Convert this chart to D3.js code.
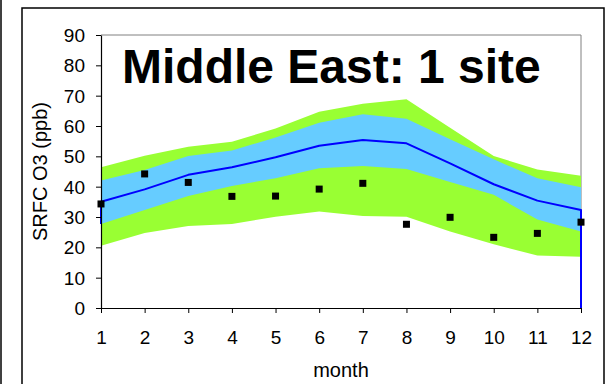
<!DOCTYPE html>
<html>
<head>
<meta charset="utf-8">
<script src="https://cdn.jsdelivr.net/npm/d3@7"></script>
<style>
  html, body { margin: 0; padding: 0; background: #fff; }
  svg { display: block; font-family: Arial, "Liberation Sans", sans-serif; }
</style>
</head>
<body>
<svg id="chart" width="608" height="384"></svg>
<script>
// Monthly surface ozone, Middle East (1 site)
const months = [1, 2, 3, 4, 5, 6, 7, 8, 9, 10, 11, 12];
const modelMean   = [35.0, 39.1, 43.9, 46.4, 49.7, 53.5, 55.4, 54.3, 47.7, 40.8, 35.4, 32.3];
const innerUpper  = [42.0, 45.5, 50.1, 51.9, 56.2, 61.1, 63.9, 62.4, 55.6, 49.0, 42.8, 39.8];
const innerLower  = [27.7, 32.3, 36.9, 40.2, 42.8, 46.1, 46.8, 45.8, 41.5, 37.3, 29.2, 25.2];
const outerUpper  = [46.4, 50.2, 53.2, 54.8, 59.2, 64.7, 67.3, 68.8, 59.4, 50.1, 45.7, 43.6];
const outerLower  = [20.5, 24.7, 27.0, 27.7, 30.1, 31.8, 30.3, 30.1, 25.2, 21.0, 17.3, 16.9];
const observed    = [34.3, 44.2, 41.4, 36.8, 36.9, 39.2, 41.1, 27.6, 29.9, 23.3, 24.6, 28.3];
const yTicks = [0, 10, 20, 30, 40, 50, 60, 70, 80, 90];
const titleText = "Middle East: 1 site";
const yLabel = "SRFC O3 (ppb)";
const xLabel = "month";

const svg = d3.select("#chart");
const plot = { left: 101, right: 581, top: 35, bottom: 308 };

const x = d3.scaleLinear().domain([1, 12]).range([plot.left, plot.right]);
const y = d3.scaleLinear().domain([0, 90]).range([plot.bottom, plot.top]);

// outer frame
svg.append("line").attr("x1", 1).attr("x2", 1).attr("y1", 0).attr("y2", 384)
  .attr("stroke", "#000").attr("stroke-width", 1.5);
svg.append("path")
  .attr("d", `M22,390 V8 H604 V390`)
  .attr("fill", "none").attr("stroke", "#000").attr("stroke-width", 1.5);

// plot area border (top & right)
svg.append("path")
  .attr("d", `M${plot.left},${plot.top} H${plot.right} V${plot.bottom}`)
  .attr("fill", "none").attr("stroke", "#808080").attr("stroke-width", 1);

const rows = months.map((m, i) => ({
  m, mean: modelMean[i], iu: innerUpper[i], il: innerLower[i],
  ou: outerUpper[i], ol: outerLower[i], obs: observed[i]
}));

// outer range band
svg.append("path").datum(rows)
  .attr("fill", "#99FF33")
  .attr("d", d3.area().x(d => x(d.m)).y0(d => y(d.ol)).y1(d => y(d.ou)));

// inner range band
svg.append("path").datum(rows)
  .attr("fill", "#66CCFF")
  .attr("d", d3.area().x(d => x(d.m)).y0(d => y(d.il)).y1(d => y(d.iu)));

// model mean line, with its end drops
const lineRows = [{ m: months[0], v: innerLower[0] }]
  .concat(rows.map(d => ({ m: d.m, v: d.mean })))
  .concat([{ m: months[months.length - 1], v: 0 }]);
svg.append("path").datum(lineRows)
  .attr("fill", "none").attr("stroke", "#0000FF").attr("stroke-width", 2)
  .attr("stroke-linejoin", "round")
  .attr("d", d3.line().x(d => x(d.m)).y(d => y(d.v)));

// observations
const ms = 7;
svg.append("g").selectAll("rect").data(rows).join("rect")
  .attr("x", d => x(d.m) - ms / 2).attr("y", d => y(d.obs) - ms / 2)
  .attr("width", ms).attr("height", ms).attr("fill", "#000");

// axes
const yAxis = svg.append("g").attr("transform", `translate(${plot.left},0)`)
  .call(d3.axisLeft(y).tickValues(yTicks).tickSize(5).tickPadding(11).tickSizeOuter(0));
const xAxis = svg.append("g").attr("transform", `translate(0,${plot.bottom})`)
  .call(d3.axisBottom(x).tickValues(months).tickSize(5).tickPadding(18).tickSizeOuter(0).tickFormat(d3.format("d")));
[yAxis, xAxis].forEach(g => {
  g.select(".domain").attr("stroke", "#000").attr("stroke-width", 1.2);
  g.selectAll(".tick line").attr("stroke", "#000");
  g.selectAll(".tick text").attr("fill", "#000")
    .style("font-family", "Arial, 'Liberation Sans', sans-serif").style("font-size", "19px");
});
yAxis.selectAll(".tick text").attr("dy", "0.35em");
xAxis.selectAll(".tick text").attr("dy", "0.71em");

// title
svg.append("text").attr("x", 122).attr("y", 83)
  .style("font-size", "48px").style("font-weight", "bold").attr("fill", "#000")
  .text(titleText);

// axis titles
svg.append("text")
  .attr("transform", `translate(47,${(plot.top + plot.bottom) / 2}) rotate(-90)`)
  .attr("text-anchor", "middle").style("font-size", "20px").attr("fill", "#000")
  .text(yLabel);
svg.append("text").attr("x", (plot.left + plot.right) / 2).attr("y", 377)
  .attr("text-anchor", "middle").style("font-size", "20px").attr("fill", "#000")
  .text(xLabel);
</script>
</body>
</html>
